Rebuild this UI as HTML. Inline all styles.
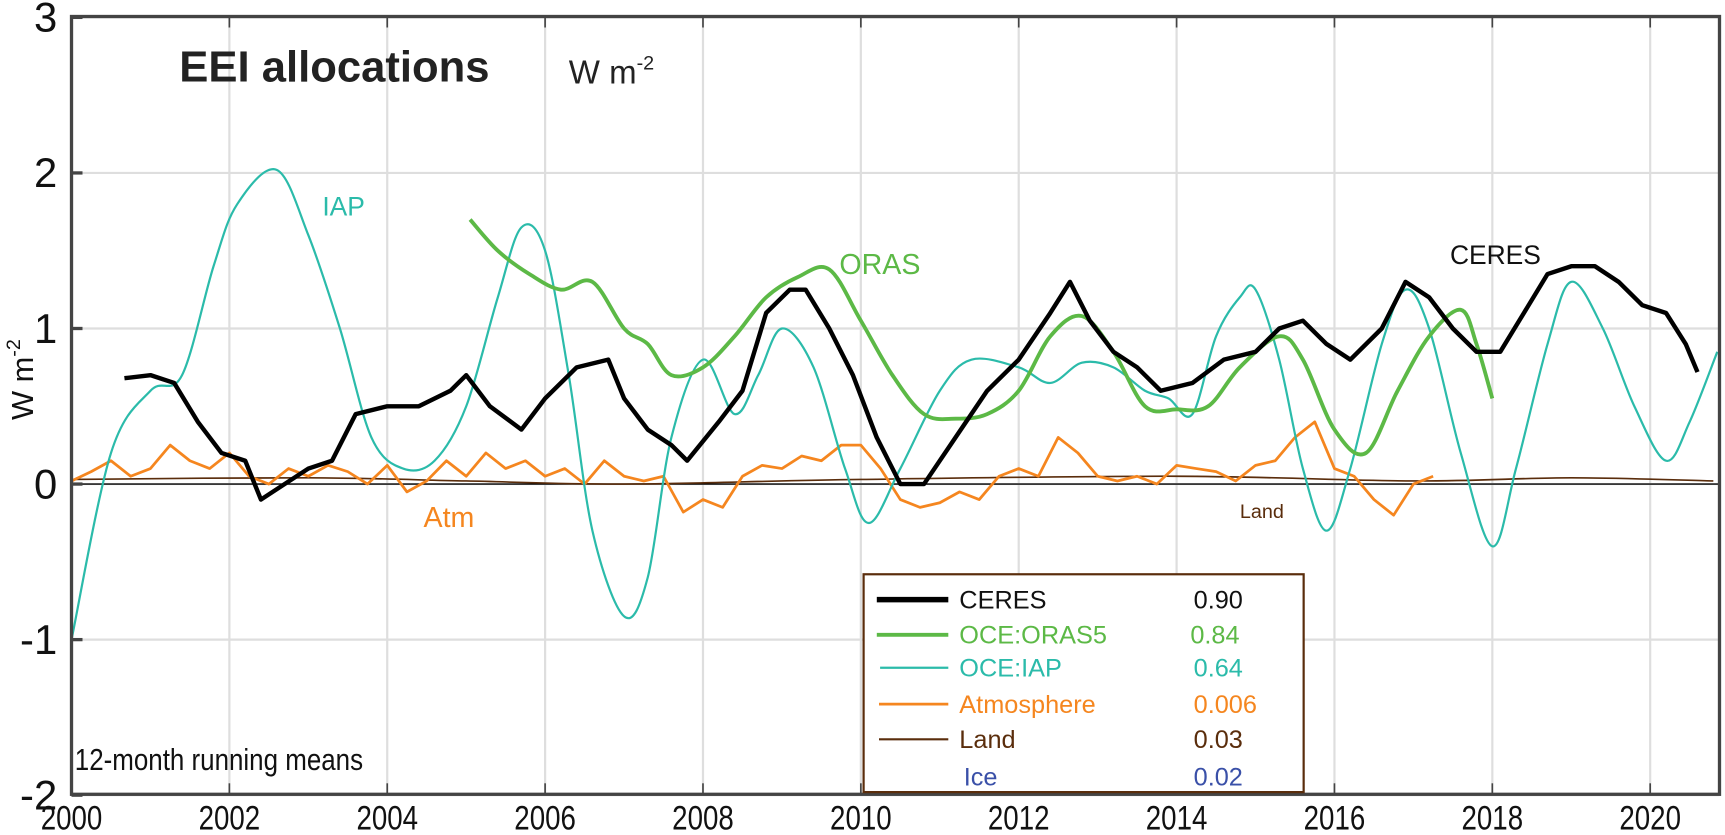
<!DOCTYPE html>
<html><head><meta charset="utf-8"><style>
html,body{margin:0;padding:0;background:#fff}
svg{display:block}
text{font-family:"Liberation Sans",sans-serif}
</style></head><body>
<svg id="chart" width="1725" height="835" viewBox="0 0 1568 759" preserveAspectRatio="none" xmlns="http://www.w3.org/2000/svg">
<g id="grid"></g>
<g id="series"></g>
<g id="axes"></g>
<text x="163" y="74" font-size="40" font-weight="bold" fill="#222" textLength="282" lengthAdjust="spacingAndGlyphs">EEI allocations</text>
<text x="517" y="76" font-size="30" fill="#222">W m<tspan font-size="18" dy="-13">-2</tspan></text>
<text transform="translate(30,345) rotate(-90)" text-anchor="middle" font-size="28" fill="#111">W m<tspan font-size="18" dy="-12">-2</tspan></text>
<text x="293" y="196" font-size="24" fill="#2bbbaa">IAP</text>
<text x="763" y="249" font-size="26" fill="#5cb946">ORAS</text>
<text x="1318" y="240" font-size="24" fill="#111">CERES</text>
<text x="385" y="479" font-size="26" fill="#f5861f">Atm</text>
<text x="1127" y="471" font-size="18" fill="#5a2d0c">Land</text>
<text x="68" y="700" font-size="28" fill="#111" textLength="262" lengthAdjust="spacingAndGlyphs">12-month running means</text>
<g>
<rect x="785" y="522" width="400" height="198" fill="#fff" stroke="#5a2d0c" stroke-width="2"/>
<g font-size="23">
<line x1="797" y1="545" x2="862" y2="545" stroke="#000" stroke-width="5"/><text x="872" y="553" fill="#111">CERES</text><text x="1085" y="553" fill="#111">0.90</text>
<line x1="797" y1="577" x2="862" y2="577" stroke="#5cb946" stroke-width="3.5"/><text x="872" y="585" fill="#5cb946">OCE:ORAS5</text><text x="1082" y="585" fill="#5cb946">0.84</text>
<line x1="800" y1="607" x2="862" y2="607" stroke="#2bbbaa" stroke-width="2"/><text x="872" y="615" fill="#2bbbaa">OCE:IAP</text><text x="1085" y="615" fill="#2bbbaa">0.64</text>
<line x1="799" y1="640" x2="862" y2="640" stroke="#f5861f" stroke-width="2.5"/><text x="872" y="648" fill="#f5861f">Atmosphere</text><text x="1085" y="648" fill="#f5861f">0.006</text>
<line x1="799" y1="672" x2="862" y2="672" stroke="#5a2d0c" stroke-width="2"/><text x="872" y="680" fill="#5a2d0c">Land</text><text x="1085" y="680" fill="#5a2d0c">0.03</text>
<text x="876" y="714" fill="#3a50a8">Ice</text><text x="1085" y="714" fill="#3a50a8">0.02</text>
</g></g>
</svg>
<script>
const xTicks=[2000,2002,2004,2006,2008,2010,2012,2014,2016,2018,2020];
const yTicks=[-2,-1,0,1,2,3];
const ceresYears=[2000.67,2001.0,2001.3,2001.6,2001.9,2002.2,2002.4,2002.7,2003.0,2003.3,2003.6,2004.0,2004.4,2004.8,2005.0,2005.3,2005.7,2006.0,2006.4,2006.8,2007.0,2007.3,2007.6,2007.8,2008.2,2008.5,2008.8,2009.1,2009.3,2009.6,2009.9,2010.2,2010.5,2010.8,2011.2,2011.6,2012.0,2012.4,2012.65,2012.9,2013.2,2013.5,2013.8,2014.2,2014.6,2015.0,2015.3,2015.6,2015.9,2016.2,2016.6,2016.9,2017.2,2017.5,2017.8,2018.1,2018.4,2018.7,2019.0,2019.3,2019.6,2019.9,2020.2,2020.45,2020.6];
const ceresVals=[0.68,0.7,0.65,0.4,0.2,0.15,-0.1,0.0,0.1,0.15,0.45,0.5,0.5,0.6,0.7,0.5,0.35,0.55,0.75,0.8,0.55,0.35,0.25,0.15,0.4,0.6,1.1,1.25,1.25,1.0,0.7,0.3,0.0,0.0,0.3,0.6,0.8,1.1,1.3,1.05,0.85,0.75,0.6,0.65,0.8,0.85,1.0,1.05,0.9,0.8,1.0,1.3,1.2,1.0,0.85,0.85,1.1,1.35,1.4,1.4,1.3,1.15,1.1,0.9,0.72];
const iapYears=[2000.0,2000.5,2001.0,2001.4,2001.8,2002.1,2002.6,2003.0,2003.4,2003.8,2004.2,2004.6,2005.0,2005.4,2005.7,2006.0,2006.3,2006.6,2007.0,2007.3,2007.6,2008.0,2008.4,2008.7,2009.0,2009.4,2009.8,2010.1,2010.5,2011.0,2011.4,2012.0,2012.4,2012.8,2013.2,2013.6,2013.9,2014.2,2014.5,2014.8,2015.0,2015.3,2015.6,2015.9,2016.2,2016.6,2016.9,2017.2,2017.6,2018.0,2018.3,2018.7,2019.0,2019.4,2019.8,2020.2,2020.5,2020.85];
const iapVals=[-1.0,0.2,0.6,0.7,1.4,1.8,2.02,1.6,1.0,0.3,0.1,0.15,0.5,1.2,1.65,1.5,0.7,-0.3,-0.85,-0.6,0.3,0.8,0.45,0.7,1.0,0.75,0.1,-0.25,0.1,0.6,0.8,0.75,0.65,0.78,0.75,0.6,0.55,0.45,0.95,1.2,1.25,0.8,0.1,-0.3,0.1,0.9,1.25,1.0,0.2,-0.4,0.1,0.9,1.3,1.0,0.5,0.15,0.4,0.85];
const orasYears=[2005.05,2005.4,2005.8,2006.2,2006.6,2007.0,2007.3,2007.6,2008.0,2008.4,2008.8,2009.2,2009.6,2010.0,2010.4,2010.8,2011.2,2011.6,2012.0,2012.4,2012.8,2013.2,2013.6,2014.0,2014.4,2014.8,2015.3,2015.6,2016.0,2016.4,2016.8,2017.2,2017.6,2017.8,2018.0];
const orasVals=[1.7,1.5,1.35,1.25,1.3,1.0,0.9,0.7,0.75,0.95,1.2,1.33,1.38,1.05,0.7,0.45,0.42,0.45,0.6,0.95,1.08,0.85,0.5,0.48,0.5,0.75,0.95,0.8,0.35,0.2,0.6,0.95,1.12,0.9,0.55];
const atmStart=2000.0, atmStep=0.25;
const atmVals=[0.02,0.08,0.15,0.05,0.1,0.25,0.15,0.1,0.2,0.05,0.0,0.1,0.05,0.12,0.08,0.0,0.12,-0.05,0.02,0.15,0.05,0.2,0.1,0.15,0.05,0.1,0.0,0.15,0.05,0.02,0.05,-0.18,-0.1,-0.15,0.05,0.12,0.1,0.18,0.15,0.25,0.25,0.1,-0.1,-0.15,-0.12,-0.05,-0.1,0.05,0.1,0.05,0.3,0.2,0.05,0.02,0.05,0.0,0.12,0.1,0.08,0.02,0.12,0.15,0.3,0.4,0.1,0.05,-0.1,-0.2,0.0,0.05];
const landYears=[2000,2003,2005,2007,2010,2014,2017,2019,2020.8];
const landVals=[0.03,0.04,0.02,0.0,0.03,0.05,0.02,0.04,0.02];

const X0=65,X1=1563,Y0=15,Y1=722;
const yrPx=(1500-65)/20;
function xs(y){return X0+(y-2000)*yrPx;}
function ys(v){return 440-v*141.4;}
const NS='http://www.w3.org/2000/svg';
function mk(tag,attrs,parent){const e=document.createElementNS(NS,tag);for(const k in attrs)e.setAttribute(k,attrs[k]);parent.appendChild(e);return e;}
const grid=document.getElementById('grid'),ser=document.getElementById('series'),ax=document.getElementById('axes');
xTicks.forEach(t=>{
  const l=mk('line',{x1:xs(t),x2:xs(t),y1:Y0,y2:Y1,stroke:'#dedede','stroke-width':2},grid);
  
  
  mk('line',{x1:xs(t),x2:xs(t),y1:Y1,y2:Y1-10,stroke:'#444','stroke-width':1.5},ax);
  mk('line',{x1:xs(t),x2:xs(t),y1:Y0,y2:Y0+10,stroke:'#444','stroke-width':1.5},ax);
  const tx=mk('text',{x:xs(t),y:754,'text-anchor':'middle','font-size':31,fill:'#111',textLength:56,lengthAdjust:'spacingAndGlyphs'},ax);
  tx.textContent=t;
  
  
});
yTicks.forEach(t=>{
  const l=mk('line',{x1:X0,x2:X1,y1:ys(t),y2:ys(t),stroke:'#dedede','stroke-width':2},grid);
  
  
  mk('line',{x1:X0,x2:X0+10,y1:ys(t),y2:ys(t),stroke:'#444','stroke-width':3},ax);
  const tx=mk('text',{x:52,y:ys(t)+13,'text-anchor':'end','font-size':38,fill:'#111'},ax);
  tx.textContent=t;
  
  
});
mk('line',{x1:X0,x2:X1,y1:ys(0),y2:ys(0),stroke:'#000','stroke-width':1.2},grid);
function path(xsArr,vals,color,w,name,smooth){
  const P=vals.map((v,i)=>[xs(xsArr[i]),ys(v)]);
  let d='M'+P[0][0].toFixed(1)+','+P[0][1].toFixed(1);
  for(let i=0;i<P.length-1;i++){
    if(!smooth){d+='L'+P[i+1][0].toFixed(1)+','+P[i+1][1].toFixed(1);continue;}
    const p0=P[Math.max(0,i-1)],p1=P[i],p2=P[i+1],p3=P[Math.min(P.length-1,i+2)];
    const c1=[p1[0]+(p2[0]-p0[0])/6,p1[1]+(p2[1]-p0[1])/6];
    const c2=[p2[0]-(p3[0]-p1[0])/6,p2[1]-(p3[1]-p1[1])/6];
    d+='C'+c1[0].toFixed(1)+','+c1[1].toFixed(1)+' '+c2[0].toFixed(1)+','+c2[1].toFixed(1)+' '+p2[0].toFixed(1)+','+p2[1].toFixed(1);
  }
  const p=mk('path',{d:d,fill:'none',stroke:color,'stroke-width':w,'stroke-linejoin':'round'},ser);
  
  
}
path(landYears,landVals,'#5a2d0c',1.5,'land-line',true);
path(atmVals.map((v,i)=>atmStart+i*atmStep),atmVals,'#f5861f',2.5,'atmosphere-line',false);
path(iapYears,iapVals,'#2bbbaa',2,'iap-line',true);
path(orasYears,orasVals,'#5cb946',3.5,'oras5-line',true);
path(ceresYears,ceresVals,'#000',4,'ceres-line',false);
const fr=mk('rect',{x:X0,y:Y0,width:X1-X0,height:Y1-Y0,fill:'none',stroke:'#444','stroke-width':3},ax);


</script>
</body></html>
